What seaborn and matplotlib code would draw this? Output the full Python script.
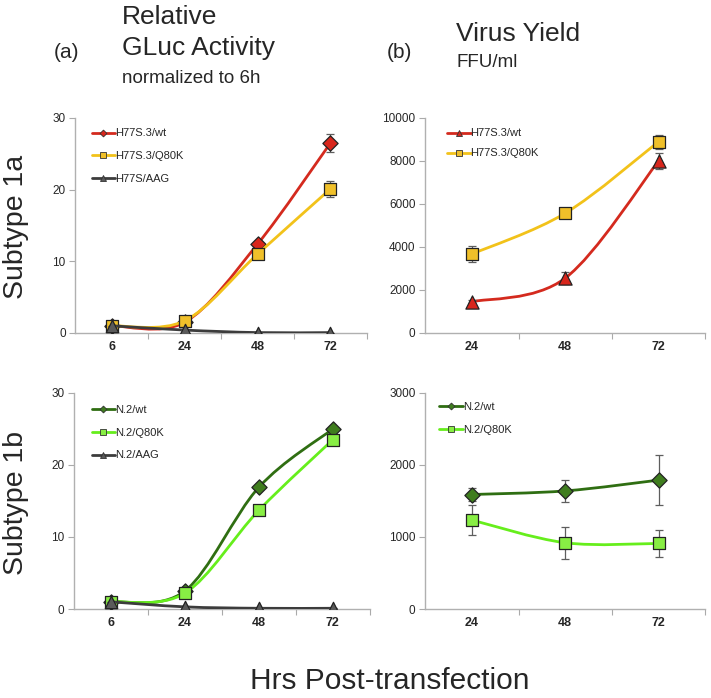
import numpy as np
import matplotlib
matplotlib.use("Agg")
import matplotlib.pyplot as plt
from matplotlib.path import Path
from matplotlib.patches import PathPatch
from matplotlib.lines import Line2D
import seaborn as sns

# --- data ---
hours_gluc = ["6", "24", "48", "72"]
hours_yield = ["24", "48", "72"]

# (a) Subtype 1a, relative GLuc activity
h77_wt = [1.0, 1.5, 12.4, 26.5]
h77_wt_err = [0.1, 0.2, 0.3, 1.3]
h77_q80k = [1.0, 1.7, 11.0, 20.1]
h77_q80k_err = [0.1, 0.2, 0.3, 1.1]
h77_aag = [1.0, 0.4, 0.05, 0.05]
h77_aag_err = [0.0, 0.0, 0.0, 0.0]

# (b) Subtype 1a, virus yield FFU/ml
h77_wt_ffu = [1450, 2550, 8000]
h77_wt_ffu_err = [60, 280, 380]
h77_q80k_ffu = [3670, 5570, 8900]
h77_q80k_ffu_err = [380, 150, 330]

# (a) Subtype 1b
n2_wt = [1.0, 2.5, 16.9, 25.0]
n2_wt_err = [0.1, 0.2, 0.3, 0.3]
n2_q80k = [1.0, 2.2, 13.7, 23.5]
n2_q80k_err = [0.1, 0.2, 0.3, 0.3]
n2_aag = [1.0, 0.3, 0.1, 0.1]
n2_aag_err = [0.0, 0.0, 0.0, 0.0]

# (b) Subtype 1b
n2_wt_ffu = [1590, 1640, 1790]
n2_wt_ffu_err = [95, 155, 350]
n2_q80k_ffu = [1235, 920, 910]
n2_q80k_ffu_err = [205, 225, 185]

RED, RED_F = "#d42a1e", "#d8261c"
YEL, YEL_F = "#f2c21a", "#f0c02a"
GRY, GRY_F = "#3c3c3c", "#5a5a5a"
DGR, DGR_F = "#2f6e12", "#3f7d1e"
LGR, LGR_F = "#66ee1c", "#88ee44"

sns.set_theme(style="white")
plt.rcParams["font.family"] = ["Liberation Sans", "DejaVu Sans"]

fig = plt.figure(figsize=(7.11, 6.98), dpi=100)


def smooth_path(x, y):
    # Excel-like smoothed line: Catmull-Rom segments as cubic Beziers
    x = np.asarray(x, float)
    y = np.asarray(y, float)
    pts = np.column_stack([x, y])
    n = len(pts)
    tang = np.zeros_like(pts)
    for i in range(n):
        a = pts[max(i - 1, 0)]
        b = pts[min(i + 1, n - 1)]
        tang[i] = (b - a) / 2.0
    verts = [pts[0]]
    codes = [Path.MOVETO]
    for i in range(n - 1):
        verts += [pts[i] + tang[i] / 3.0, pts[i + 1] - tang[i + 1] / 3.0, pts[i + 1]]
        codes += [Path.CURVE4] * 3
    return Path(verts, codes)


def draw_series(ax, cats, vals, err, line_c, face_c, marker, size, z=0):
    pos = np.arange(len(cats))
    ax.add_patch(PathPatch(smooth_path(pos, vals), fill=False, edgecolor=line_c,
                           lw=2.0, zorder=2 + z, capstyle="round"))
    ax.errorbar(pos, vals, yerr=err, fmt="none", ecolor="#5e5e5e",
                elinewidth=0.9, capsize=3, capthick=0.9, zorder=2.5 + z)
    sns.scatterplot(x=pos, y=vals, ax=ax, marker=marker, s=size,
                    color=face_c, edgecolor="#222222", linewidth=0.9,
                    zorder=2.8 + z, legend=False)


def style_axes(ax, cats, ymax, ystep):
    n = len(cats)
    ax.set_xlim(-0.5, n - 0.5)
    ax.set_ylim(0, ymax)
    ax.set_xticks(np.arange(n))
    ax.set_xticklabels(cats, fontsize=9, fontweight="bold")
    ax.set_xticks(np.arange(n) + 0.5, minor=True)
    ax.set_yticks(np.arange(0, ymax + 1, ystep))
    ax.tick_params(axis="y", labelsize=8.5, length=4, width=0.8,
                   color="#aaaaaa", left=True, pad=3)
    ax.tick_params(axis="x", which="major", length=0, pad=6)
    ax.tick_params(axis="x", which="minor", length=4, width=0.8,
                   color="#aaaaaa", bottom=True)
    for s in ["top", "right"]:
        ax.spines[s].set_visible(False)
    for s in ["left", "bottom"]:
        ax.spines[s].set_color("#b0b0b0")
        ax.spines[s].set_linewidth(1.0)
    ax.set_xlabel("")
    ax.set_ylabel("")


def add_legend(ax, entries, anchor, spacing=1.1):
    handles = [Line2D([], [], color=c, lw=2.0, marker=m, markersize=ms,
                      markerfacecolor=f, markeredgecolor="#333333",
                      markeredgewidth=0.6, label=l)
               for l, c, f, m, ms in entries]
    ax.legend(handles=handles, loc="upper left", bbox_to_anchor=anchor,
              bbox_transform=fig.transFigure, frameon=False, fontsize=8,
              handlelength=2.1, handletextpad=0.0, labelspacing=spacing,
              borderpad=0, borderaxespad=0)


# top-left: Subtype 1a, GLuc
ax1 = fig.add_axes([0.106, 0.523, 0.410, 0.308])
draw_series(ax1, hours_gluc, h77_wt, h77_wt_err, RED, RED_F, "D", 60, 0)
draw_series(ax1, hours_gluc, h77_q80k, h77_q80k_err, YEL, YEL_F, "s", 85, 1)
draw_series(ax1, hours_gluc, h77_aag, h77_aag_err, GRY, GRY_F, "^", 80, 2)
style_axes(ax1, hours_gluc, 30, 10)
add_legend(ax1, [("H77S.3/wt", RED, RED_F, "D", 3.5),
                 ("H77S.3/Q80K", YEL, YEL_F, "s", 4.5),
                 ("H77S/AAG", GRY, GRY_F, "^", 4.5)], (0.129, 0.816), 1.15)

# top-right: Subtype 1a, virus yield
ax2 = fig.add_axes([0.598, 0.523, 0.394, 0.308])
draw_series(ax2, hours_yield, h77_q80k_ffu, h77_q80k_ffu_err, YEL, YEL_F, "s", 85, 0)
draw_series(ax2, hours_yield, h77_wt_ffu, h77_wt_ffu_err, RED, RED_F, "^", 90, 1)
style_axes(ax2, hours_yield, 10000, 2000)
add_legend(ax2, [("H77S.3/wt", RED, RED_F, "^", 4.5),
                 ("H77S.3/Q80K", YEL, YEL_F, "s", 4.5)], (0.629, 0.816), 0.9)

# bottom-left: Subtype 1b, GLuc
ax3 = fig.add_axes([0.104, 0.1275, 0.416, 0.3095])
draw_series(ax3, hours_gluc, n2_wt, n2_wt_err, DGR, DGR_F, "D", 60, 0)
draw_series(ax3, hours_gluc, n2_q80k, n2_q80k_err, LGR, LGR_F, "s", 85, 1)
draw_series(ax3, hours_gluc, n2_aag, n2_aag_err, GRY, GRY_F, "^", 80, 2)
style_axes(ax3, hours_gluc, 30, 10)
add_legend(ax3, [("N.2/wt", DGR, DGR_F, "D", 3.5),
                 ("N.2/Q80K", LGR, LGR_F, "s", 4.5),
                 ("N.2/AAG", GRY, GRY_F, "^", 4.5)], (0.129, 0.420), 1.15)

# bottom-right: Subtype 1b, virus yield
ax4 = fig.add_axes([0.598, 0.1275, 0.394, 0.3095])
draw_series(ax4, hours_yield, n2_wt_ffu, n2_wt_ffu_err, DGR, DGR_F, "D", 60, 0)
draw_series(ax4, hours_yield, n2_q80k_ffu, n2_q80k_ffu_err, LGR, LGR_F, "s", 85, 1)
style_axes(ax4, hours_yield, 3000, 1000)
add_legend(ax4, [("N.2/wt", DGR, DGR_F, "D", 3.5),
                 ("N.2/Q80K", LGR, LGR_F, "s", 4.5)], (0.618, 0.424), 1.15)

# headings and outer labels
fig.text(0.093, 0.925, "(a)", fontsize=15, ha="center", va="center")
fig.text(0.171, 0.976, "Relative", fontsize=19, ha="left", va="center")
fig.text(0.171, 0.931, "GLuc Activity", fontsize=19, ha="left", va="center")
fig.text(0.171, 0.887, "normalized to 6h", fontsize=13.5, ha="left", va="center")
fig.text(0.562, 0.925, "(b)", fontsize=15, ha="center", va="center")
fig.text(0.642, 0.952, "Virus Yield", fontsize=19, ha="left", va="center")
fig.text(0.642, 0.910, "FFU/ml", fontsize=13.5, ha="left", va="center")
fig.text(0.022, 0.675, "Subtype 1a", fontsize=20.5, rotation=90, ha="center", va="center")
fig.text(0.022, 0.280, "Subtype 1b", fontsize=20.5, rotation=90, ha="center", va="center")
fig.text(0.548, 0.024, "Hrs Post-transfection", fontsize=21.5, ha="center", va="center")

fig.savefig("out.png", dpi=100)
